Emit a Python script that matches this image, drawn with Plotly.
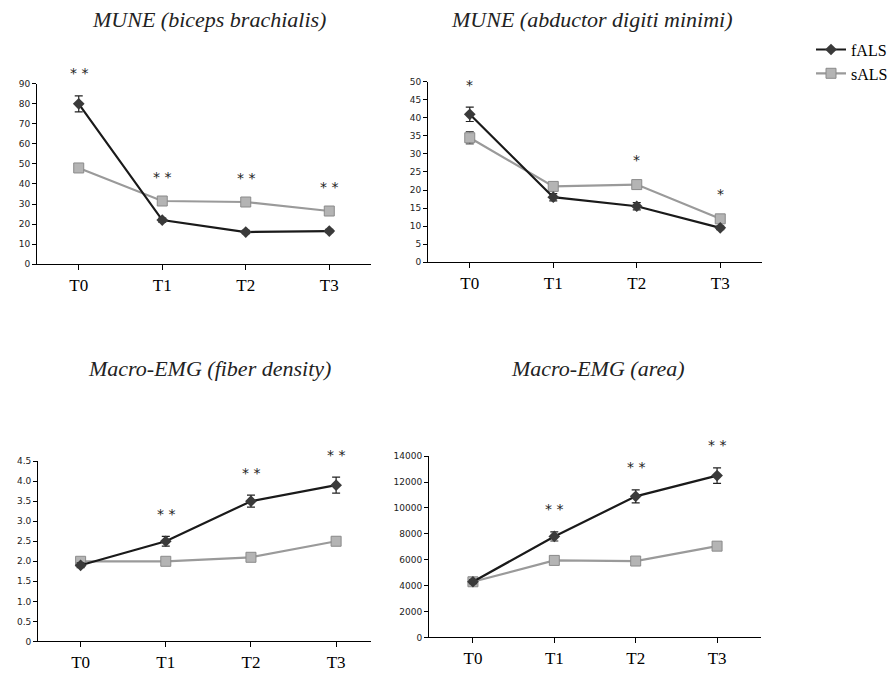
import plotly.graph_objects as go

categories = ["T0", "T1", "T2", "T3"]

titles = ["MUNE (biceps brachialis)", "MUNE (abductor digiti minimi)",
          "Macro-EMG (fiber density)", "Macro-EMG (area)"]

# Panel 1: MUNE biceps brachialis
p1_fals = [80, 22, 16, 16.5]
p1_fals_err = [4, 1, 0.8, 0.8]
p1_sals = [48, 31.5, 31, 26.5]
p1_sals_err = [1.5, 0.8, 0.8, 0.8]
p1_sig = ["* *", "* *", "* *", "* *"]
p1_ticks = [0, 10, 20, 30, 40, 50, 60, 70, 80, 90]
p1_ticktext = ["0", "10", "20", "30", "40", "50", "60", "70", "80", "90"]

# Panel 2: MUNE abductor digiti minimi
p2_fals = [41, 18, 15.5, 9.5]
p2_fals_err = [2, 1, 1, 0.5]
p2_sals = [34.5, 21, 21.5, 12]
p2_sals_err = [1.7, 0.7, 0.7, 0.6]
p2_sig = ["*", "", "*", "*"]
p2_ticks = [0, 5, 10, 15, 20, 25, 30, 35, 40, 45, 50]
p2_ticktext = ["0", "5", "10", "15", "20", "25", "30", "35", "40", "45", "50"]

# Panel 3: Macro-EMG fiber density
p3_fals = [1.9, 2.5, 3.5, 3.9]
p3_fals_err = [0.06, 0.12, 0.15, 0.2]
p3_sals = [2.0, 2.0, 2.1, 2.5]
p3_sals_err = [0.05, 0.05, 0.08, 0.1]
p3_sig = ["", "* *", "* *", "* *"]
p3_ticks = [0, 0.5, 1.0, 1.5, 2.0, 2.5, 3.0, 3.5, 4.0, 4.5]
p3_ticktext = ["0", "0.5", "1.0", "1.5", "2.0", "2.5", "3.0", "3.5", "4.0", "4.5"]

# Panel 4: Macro-EMG area
p4_fals = [4300, 7800, 10900, 12500]
p4_fals_err = [150, 350, 500, 600]
p4_sals = [4300, 5950, 5900, 7050]
p4_sals_err = [150, 150, 150, 200]
p4_sig = ["", "* *", "* *", "* *"]
p4_ticks = [0, 2000, 4000, 6000, 8000, 10000, 12000, 14000]
p4_ticktext = ["0", "2000", "4000", "6000", "8000", "10000", "12000", "14000"]

panels = [
    dict(f=p1_fals, fe=p1_fals_err, s=p1_sals, se=p1_sals_err, sig=p1_sig,
         ticks=p1_ticks, tt=p1_ticktext,
         xd=[0.0414, 0.4155], yd=[0.6092, 0.8811], xr=[-0.5, 3.5],
         tx=209 / 893, ty=1 - 15 / 673),
    dict(f=p2_fals, fe=p2_fals_err, s=p2_sals, se=p2_sals_err, sig=p2_sig,
         ticks=p2_ticks, tt=p2_ticktext,
         xd=[0.4793, 0.8533], yd=[0.6122, 0.8841], xr=[-0.5, 3.5],
         tx=591 / 893, ty=1 - 15 / 673),
    dict(f=p3_fals, fe=p3_fals_err, s=p3_sals, se=p3_sals_err, sig=p3_sig,
         ticks=p3_ticks, tt=p3_ticktext,
         xd=[0.0426, 0.4155], yd=[0.0401, 0.3120], xr=[-0.5, 3.41],
         tx=209 / 893, ty=1 - 369 / 673),
    dict(f=p4_fals, fe=p4_fals_err, s=p4_sals, se=p4_sals_err, sig=p4_sig,
         ticks=p4_ticks, tt=p4_ticktext,
         xd=[0.4804, 0.8522], yd=[0.0461, 0.3195], xr=[-0.54, 3.54],
         tx=597 / 893, ty=1 - 369 / 673),
]

SERIF = "Liberation Serif, Times New Roman, serif"

fig = go.Figure()
annotations = []
xpos = list(range(len(categories)))

for i, p in enumerate(panels):
    n = i + 1
    xa = "x" if n == 1 else f"x{n}"
    ya = "y" if n == 1 else f"y{n}"
    fig.add_trace(go.Scatter(
        x=xpos, y=p["s"], xaxis=xa, yaxis=ya, name="sALS",
        mode="lines+markers", showlegend=(n == 1), legendrank=2,
        line=dict(color="#9a9a9a", width=2.2),
        marker=dict(symbol="square", size=10, color="#b4b4b4",
                    line=dict(color="#8a8a8a", width=1)),
        error_y=dict(type="data", array=p["se"], color="#555555",
                     thickness=1.2, width=4),
        cliponaxis=False))
    fig.add_trace(go.Scatter(
        x=xpos, y=p["f"], xaxis=xa, yaxis=ya, name="fALS",
        mode="lines+markers", showlegend=(n == 1), legendrank=1,
        line=dict(color="#1a1a1a", width=2.2),
        marker=dict(symbol="diamond", size=9, color="#3a3a3a"),
        error_y=dict(type="data", array=p["fe"], color="#222222",
                     thickness=1.2, width=4),
        cliponaxis=False))
    ymax = p["ticks"][-1]
    for j, lab in enumerate(p["sig"]):
        if lab:
            top = max(p["f"][j] + p["fe"][j], p["s"][j] + p["se"][j])
            annotations.append(dict(
                x=xpos[j], y=(top + 0.125 * ymax) / ymax,
                xref=xa, yref=f"{ya} domain",
                text=lab, showarrow=False,
                xanchor="center", yanchor="middle",
                font=dict(family="DejaVu Sans", size=14, color="#222222")))
    annotations.append(dict(
        x=p["tx"], y=p["ty"], xref="paper", yref="paper",
        text="<i>" + titles[i] + "</i>",
        showarrow=False, xanchor="center", yanchor="middle",
        font=dict(family=SERIF, size=22, color="#222222")))
    axis_common = dict(showline=True, linecolor="#000000", linewidth=1,
                       showgrid=False, zeroline=False, ticks="outside",
                       tickcolor="#000000")
    fig.layout[f"xaxis{'' if n == 1 else n}"] = dict(
        domain=p["xd"], range=p["xr"], anchor=ya,
        tickvals=xpos, ticktext=categories, ticklen=5,
        tickfont=dict(family=SERIF, size=17, color="#000000"),
        **axis_common)
    fig.layout[f"yaxis{'' if n == 1 else n}"] = dict(
        domain=p["yd"], range=[0, ymax], anchor=xa,
        tickvals=p["ticks"], ticktext=p["tt"], ticklen=4,
        tickfont=dict(family="DejaVu Sans", size=9, color="#222222"),
        **axis_common)

fig.update_layout(
    width=893, height=673,
    margin=dict(l=0, r=0, t=0, b=0),
    paper_bgcolor="white", plot_bgcolor="white",
    annotations=annotations,
    legend=dict(x=0.9085, y=1 - 28 / 673, xanchor="left", yanchor="top",
                font=dict(family=SERIF, size=16, color="#000000"),
                bgcolor="rgba(0,0,0,0)", tracegroupgap=0, itemwidth=30),
)

fig.write_html("out.html", config={"displayModeBar": False},
               post_script="document.body.style.margin='0';")
